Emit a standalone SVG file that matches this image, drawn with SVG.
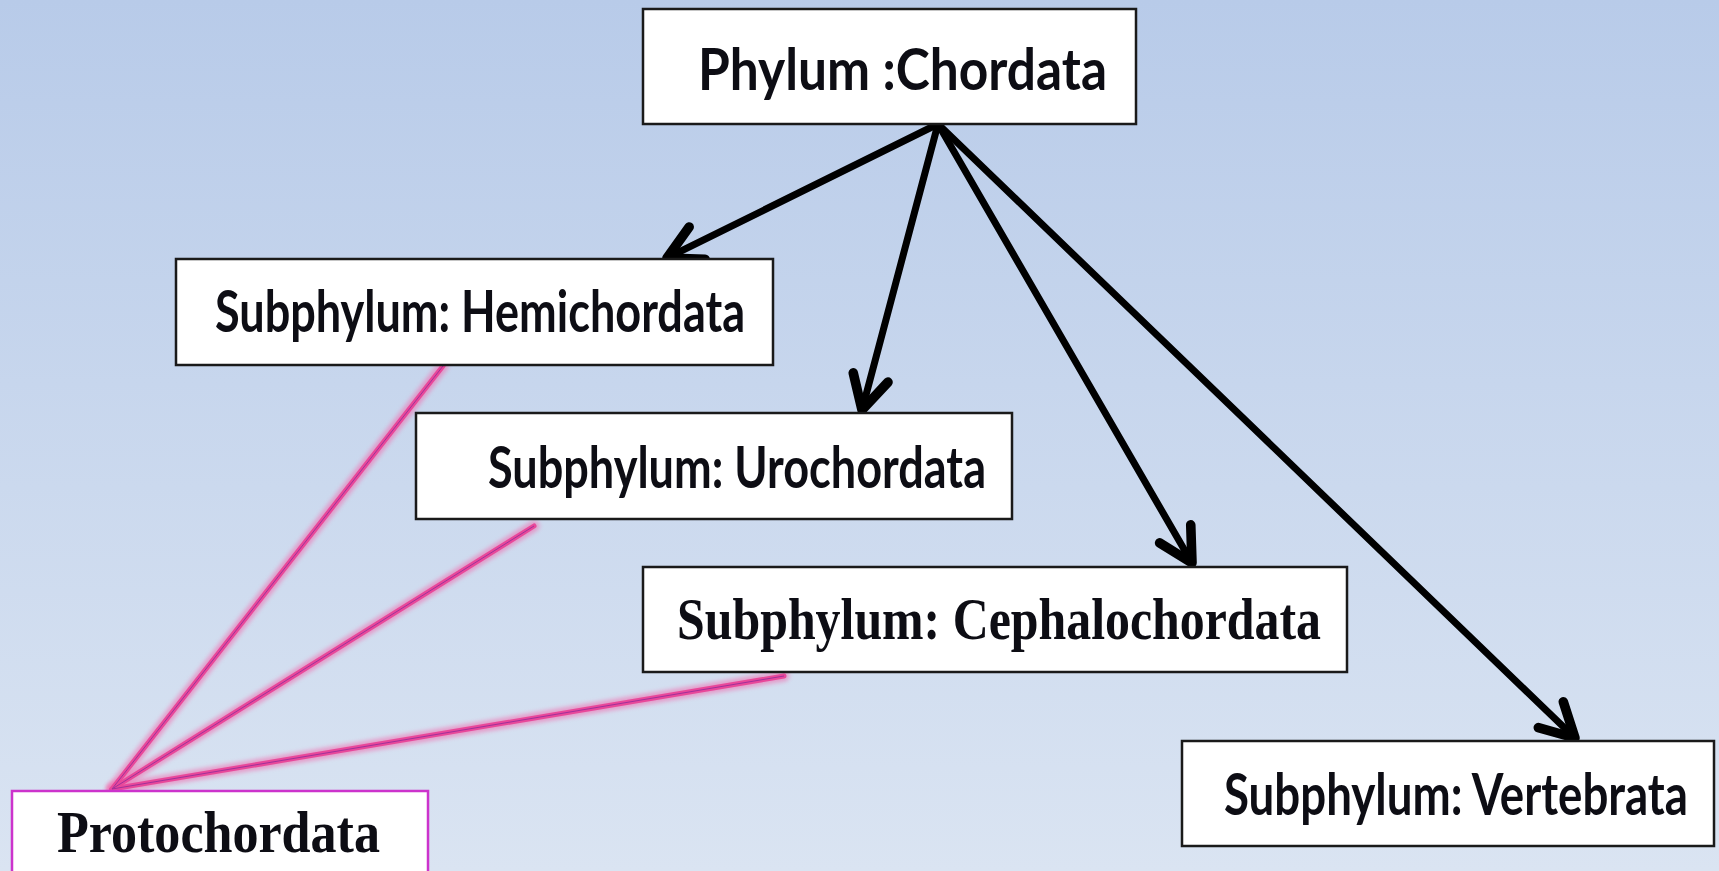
<svg xmlns="http://www.w3.org/2000/svg" width="1719" height="871" viewBox="0 0 1719 871">
<defs>
<linearGradient id="bg" x1="0" y1="0" x2="0" y2="1">
<stop offset="0" stop-color="#b8cbe9"/>
<stop offset="1" stop-color="#dae4f2"/>
</linearGradient>
<marker id="arr" markerUnits="userSpaceOnUse" markerWidth="60" markerHeight="60" refX="0" refY="0" viewBox="-35 -25 40 50" orient="auto" overflow="visible">
<path d="M-28,-15 L0,0 L-28,15" fill="none" stroke="#000" stroke-width="8" stroke-linecap="round" stroke-linejoin="round"/>
</marker>
<filter id="glow" x="-10%" y="-10%" width="120%" height="120%">
<feGaussianBlur stdDeviation="2"/>
</filter>
</defs>
<style>
.box{fill:#fff;stroke:#1a1a1a;stroke-width:2.5}
.sans{font-family:Lato,"Liberation Sans",sans-serif;font-weight:bold;font-size:57px;fill:#0d0d14}
.serif{font-family:"Liberation Serif","DejaVu Serif",serif;font-weight:bold;font-size:60px;fill:#0d0d14}
.arrow{fill:none;stroke:#000;stroke-width:7;stroke-linecap:round;marker-end:url(#arr)}
.pglow{fill:none;stroke:#f070b0;stroke-width:11;stroke-linecap:round;opacity:0.6;filter:url(#glow)}
.pink{fill:none;stroke:#e8489a;stroke-width:5;stroke-linecap:round}
.pcore{fill:none;stroke:#a0309a;stroke-width:1}
</style>
<rect x="0" y="0" width="1719" height="871" fill="url(#bg)"/>
<g id="connectors">
<line class="arrow" x1="938" y1="124" x2="667" y2="258"/>
<line class="arrow" x1="938" y1="124" x2="862" y2="410"/>
<line class="arrow" x1="938" y1="124" x2="1192" y2="563"/>
<line class="arrow" x1="938" y1="124" x2="1575" y2="738"/>
<g id="pink-lines">
<line class="pglow" x1="112" y1="789" x2="443" y2="366"/>
<line class="pglow" x1="112" y1="789" x2="534" y2="526"/>
<line class="pglow" x1="112" y1="789" x2="784" y2="676"/>
<line class="pink" x1="112" y1="789" x2="443" y2="366"/>
<line class="pink" x1="112" y1="789" x2="534" y2="526"/>
<line class="pink" x1="112" y1="789" x2="784" y2="676"/>
<line class="pcore" x1="112" y1="789" x2="443" y2="366"/>
<line class="pcore" x1="112" y1="789" x2="534" y2="526"/>
<line class="pcore" x1="112" y1="789" x2="784" y2="676"/>
</g>
</g>
<g id="phylum">
<rect class="box" x="643" y="9" width="493" height="115"/>
<text class="sans" x="698" y="90" textLength="409" lengthAdjust="spacingAndGlyphs">Phylum :Chordata</text>
</g>
<g id="hemichordata">
<rect class="box" x="176" y="259" width="597" height="106"/>
<text class="sans" x="215" y="332" textLength="530" lengthAdjust="spacingAndGlyphs">Subphylum: Hemichordata</text>
</g>
<g id="urochordata">
<rect class="box" x="416" y="413" width="596" height="106"/>
<text class="sans" x="488" y="488" textLength="498" lengthAdjust="spacingAndGlyphs">Subphylum: Urochordata</text>
</g>
<g id="cephalochordata">
<rect class="box" x="643" y="567" width="704" height="105"/>
<text class="serif" x="677" y="639" textLength="644" lengthAdjust="spacingAndGlyphs">Subphylum: Cephalochordata</text>
</g>
<g id="vertebrata">
<rect class="box" x="1182" y="741" width="532" height="105"/>
<text class="sans" x="1224" y="815" textLength="464" lengthAdjust="spacingAndGlyphs">Subphylum: Vertebrata</text>
</g>
<g id="protochordata">
<rect x="12" y="791" width="416" height="100" fill="#fff" stroke="#cc33cc" stroke-width="2.5"/>
<text class="serif" x="57" y="852" textLength="323" lengthAdjust="spacingAndGlyphs">Protochordata</text>
</g>
</svg>
